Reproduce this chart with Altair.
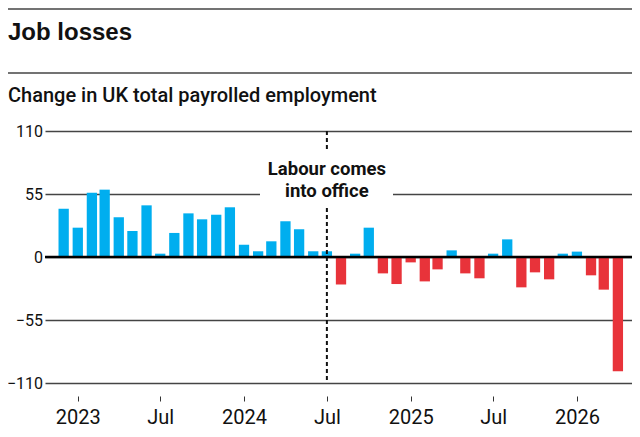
import altair as alt
import pandas as pd

# ---- data -------------------------------------------------------------
months = [d.strftime("%Y-%m-%d") for d in pd.date_range("2022-12-01", periods=41, freq="MS")]
change = [42.2, 25.6, 56.1, 58.8, 34.7, 22.7, 45.1, 2.9, 21.0, 38.1, 32.9, 36.9,
          43.4, 10.7, 5.0, 13.7, 31.2, 24.2, 5.0, 5.0, -24.0, 2.9, 25.6, -14.3,
          -23.6, -4.7, -21.3, -10.8, 5.8, -14.3, -18.6, 2.9, 15.4, -26.5, -13.4, -19.5,
          2.9, 4.7, -16.0, -28.5, -99.8]
y_ticks = [-110, -55, 0, 55, 110]
x_tick_dates = [(2023, 1), (2023, 7), (2024, 1), (2024, 7), (2025, 1), (2025, 7), (2026, 1)]
event_date = ["2024-07-01"]
event_label = ["Labour comes", "into office"]
title_text = "Job losses"
subtitle_text = "Change in UK total payrolled employment"

df = pd.DataFrame({"month": months, "change": change})
event_df = pd.DataFrame({"month": event_date, "change": [max(y_ticks)], "bottom": [min(y_ticks)]})
zero_df = pd.DataFrame({"change": [0]})
one = pd.DataFrame({"k": [0]})

BLUE = "#00aeef"
RED = "#e8333a"
FONT = "Roboto, Liberation Sans, sans-serif"

W, H = 587, 252

xscale = alt.Scale(type="utc",
                   domain=[alt.DateTime(year=2022, month=11, date=1, utc=True),
                           alt.DateTime(year=2026, month=4, date=21, utc=True)])
yscale = alt.Scale(domain=[min(y_ticks), max(y_ticks)], nice=False)

xaxis = alt.Axis(
    values=[alt.DateTime(year=y, month=m, date=1, utc=True) for y, m in x_tick_dates],
    labelExpr="utcmonth(datum.value) == 0 ? '' + utcyear(datum.value) : 'Jul'",
    grid=False, domain=False, ticks=True, tickSize=5, tickColor="#333", tickWidth=1,
    offset=13, labelPadding=6.5, labelFont=FONT, labelFontSize=20, labelColor="#111",
    labelFlush=False, title=None,
)
yaxis = alt.Axis(
    values=y_ticks, grid=True, gridColor="#444", gridWidth=1.3, domain=False, ticks=False,
    labelPadding=2.5, labelFont=FONT, labelFontSize=16, labelColor="#111", title=None,
)

bars = alt.Chart(df).mark_bar(width=10.3).encode(
    x=alt.X("month:T", scale=xscale, axis=xaxis),
    y=alt.Y("change:Q", scale=yscale, axis=yaxis),
    color=alt.condition("datum.change >= 0", alt.value(BLUE), alt.value(RED)),
)

dashed = alt.Chart(event_df).mark_rule(strokeDash=[4, 3], strokeWidth=2, color="#111").encode(
    x=alt.X("month:T", scale=xscale, axis=xaxis),
    y=alt.Y("change:Q", scale=yscale, axis=yaxis),
    y2="bottom:Q",
)

mask = alt.Chart(one).mark_rect(color="white").encode(
    x=alt.value(215), x2=alt.value(348), y=alt.value(19), y2=alt.value(74),
)

label = alt.Chart(event_df).mark_text(
    text=event_label, font=FONT, fontSize=18.5, fontWeight="bold", color="#111",
    align="center", baseline="alphabetic", lineHeight=22,
).encode(
    x=alt.X("month:T", scale=xscale, axis=xaxis),
    y=alt.value(44),
)

zero = alt.Chart(zero_df).mark_rule(color="#000", strokeWidth=2.5).encode(
    y=alt.Y("change:Q", scale=yscale, axis=yaxis),
)

rule_top = alt.Chart(one).mark_rule(color="#444", strokeWidth=1.4).encode(
    x=alt.value(-37), x2=alt.value(W), y=alt.value(-122),
)
rule_mid = alt.Chart(one).mark_rule(color="#444", strokeWidth=1.4).encode(
    x=alt.value(-37), x2=alt.value(W), y=alt.value(-58),
)
title = alt.Chart(one).mark_text(
    text=title_text, font="Liberation Sans, Arial, sans-serif", fontSize=24,
    fontWeight="bold", color="#111", align="left", baseline="alphabetic",
).encode(x=alt.value(-37), y=alt.value(-91))
subtitle = alt.Chart(one).mark_text(
    text=subtitle_text, font=FONT, fontSize=20,
    fontWeight=500, color="#111", align="left", baseline="alphabetic",
).encode(x=alt.value(-37), y=alt.value(-29))

chart = alt.layer(
    bars, dashed, mask, label, zero, rule_top, rule_mid, title, subtitle
).properties(
    width=W, height=H,
    autosize=alt.AutoSizeParams(type="none"),
    padding={"left": 37, "top": 123, "right": 0, "bottom": 46},
).configure_view(stroke=None)

chart.save("out.html", embed_options={"renderer": "svg", "actions": False})
